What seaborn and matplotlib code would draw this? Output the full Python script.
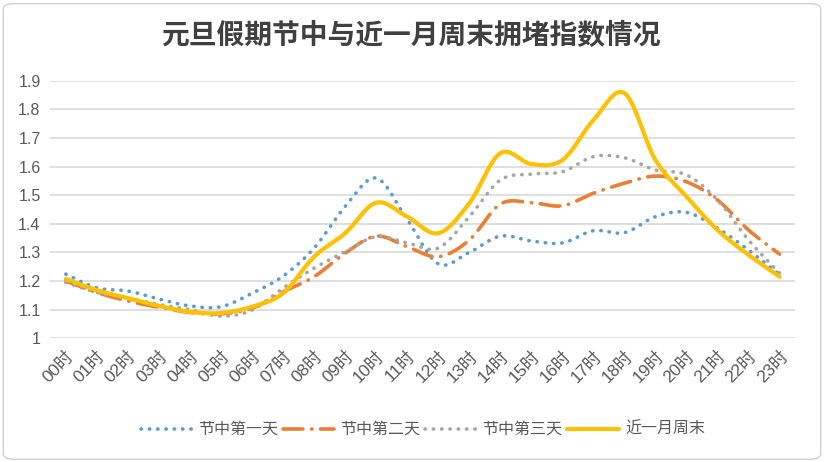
"""元旦假期节中与近一月周末拥堵指数情况 折线图"""

import matplotlib

matplotlib.use("Agg")
import matplotlib.pyplot as plt
import numpy as np
import pandas as pd
import seaborn as sns
from matplotlib.patches import FancyBboxPatch
from matplotlib.ticker import FuncFormatter

hours = [f"{h:02d}时" for h in range(24)]

day1 = [1.224, 1.176, 1.165, 1.137, 1.113, 1.110, 1.157, 1.217, 1.315, 1.460, 1.560, 1.415,
        1.260, 1.300, 1.357, 1.340, 1.333, 1.376, 1.369, 1.425, 1.440, 1.385, 1.308, 1.222]
day2 = [1.200, 1.160, 1.130, 1.108, 1.090, 1.085, 1.105, 1.162, 1.215, 1.297, 1.357, 1.320,
        1.285, 1.343, 1.469, 1.474, 1.463, 1.507, 1.542, 1.567, 1.547, 1.483, 1.378, 1.294]
day3 = [1.195, 1.160, 1.140, 1.118, 1.100, 1.077, 1.098, 1.175, 1.245, 1.302, 1.355, 1.333,
        1.315, 1.425, 1.553, 1.574, 1.582, 1.635, 1.631, 1.588, 1.571, 1.483, 1.343, 1.227]
weekend = [1.207, 1.168, 1.140, 1.113, 1.092, 1.088, 1.110, 1.157, 1.285, 1.367, 1.474, 1.425,
           1.367, 1.472, 1.647, 1.609, 1.623, 1.763, 1.857, 1.623, 1.495, 1.378, 1.291, 1.215]

series_names = ["节中第一天", "节中第二天", "节中第三天", "近一月周末"]
series_values = [day1, day2, day3, weekend]
colors = ["#5B9BD5", "#ED7D31", "#A5A5A5", "#FFC000"]


def smooth(values, n=20):
    """Excel 平滑线 (Catmull-Rom)"""
    y = np.asarray(values, dtype=float)
    x = np.arange(len(y), dtype=float)
    px = np.concatenate([[x[0]], x, [x[-1]]])
    py = np.concatenate([[y[0]], y, [y[-1]]])
    xs, ys = [], []
    t = np.linspace(0, 1, n, endpoint=False)
    for i in range(1, len(px) - 2):
        p0, p1, p2, p3 = py[i - 1], py[i], py[i + 1], py[i + 2]
        q0, q1, q2, q3 = px[i - 1], px[i], px[i + 1], px[i + 2]
        for arr, a0, a1, a2, a3 in ((xs, q0, q1, q2, q3), (ys, p0, p1, p2, p3)):
            arr.extend(0.5 * ((2 * a1) + (-a0 + a2) * t
                              + (2 * a0 - 5 * a1 + 4 * a2 - a3) * t ** 2
                              + (-a0 + 3 * a1 - 3 * a2 + a3) * t ** 3))
    xs.append(x[-1])
    ys.append(y[-1])
    return np.array(xs), np.array(ys)


sns.set_theme(style="white")
plt.rcParams["font.family"] = ["Liberation Sans", "Noto Sans CJK SC", "DejaVu Sans"]

fig = plt.figure(figsize=(8.24, 4.62), dpi=100)
ax = fig.add_axes([0.061, 0.268, 0.904, 0.557])

styles = [
    dict(linestyle=(0, (0.1, 2.2)), linewidth=2.6, dash_capstyle="round"),
    dict(linestyle=(0, (5.5, 2.4, 0.1, 2.4)), linewidth=2.6, dash_capstyle="round"),
    dict(linestyle=(0, (0.1, 2.2)), linewidth=2.6, dash_capstyle="round"),
    dict(linestyle="-", linewidth=3.0, solid_capstyle="round"),
]

for name, vals, color, st in zip(series_names, series_values, colors, styles):
    sx, sy = smooth(vals)
    df = pd.DataFrame({"x": sx, "y": sy})
    sns.lineplot(data=df, x="x", y="y", ax=ax, color=color, label=name, sort=False, **st)

ax.set_xlim(-0.5, 23.5)
ax.set_ylim(1.0, 1.9)
ax.set_yticks(np.arange(1.0, 1.91, 0.1))
ax.yaxis.set_major_formatter(FuncFormatter(lambda v, _: f"{v:.1f}".rstrip("0").rstrip(".")))
ax.set_xticks(range(24))
ax.set_xticklabels(hours, rotation=45, ha="right", rotation_mode="anchor")
ax.tick_params(axis="both", labelcolor="#595959", length=0, pad=7)
ax.tick_params(axis="y", labelsize=11.5)
ax.tick_params(axis="x", labelsize=12.5)
ax.set_xlabel("")
ax.set_ylabel("")
ax.grid(axis="y", color="#D9D9D9", linewidth=1.2)
ax.set_axisbelow(True)
for s in ax.spines.values():
    s.set_visible(False)

ax.legend(loc="upper center", bbox_to_anchor=(0.5, -0.27), ncol=4, frameon=False,
          fontsize=11.5, handlelength=3.2, columnspacing=0.3, handletextpad=0.4,
          labelcolor="#595959")

fig.suptitle("元旦假期节中与近一月周末拥堵指数情况", x=0.499, y=0.95, fontsize=20,
             fontweight="bold", color="#404040")

fig.patches.append(FancyBboxPatch((0.004, 0.006), 0.992, 0.986, boxstyle="round,pad=0,rounding_size=0.012",
                                  transform=fig.transFigure, facecolor="none",
                                  edgecolor="#D0D0D0", linewidth=1))

fig.savefig("out.png", dpi=100)
plt.close(fig)
